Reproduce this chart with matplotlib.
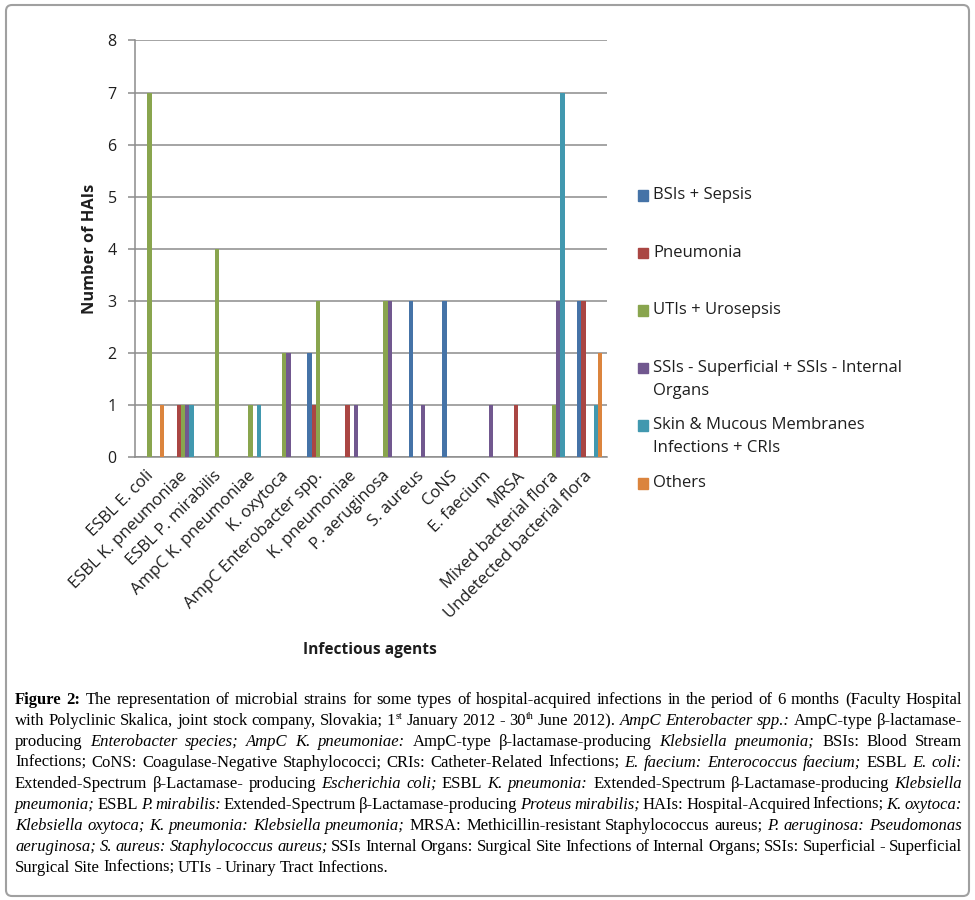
import matplotlib
matplotlib.use("Agg")
import matplotlib.pyplot as plt
import numpy as np
from matplotlib.patches import FancyBboxPatch, Rectangle
from matplotlib.transforms import IdentityTransform

# Data
agents = ["ESBL E. coli", "ESBL K. pneumoniae", "ESBL P. mirabilis",
          "AmpC K. pneumoniae", "K. oxytoca", "AmpC Enterobacter spp.",
          "K. pneumoniae", "P. aeruginosa", "S. aureus", "CoNS", "E. faecium",
          "MRSA", "Mixed bacterial flora", "Undetected bacterial flora"]

series_names = ["BSIs + Sepsis", "Pneumonia", "UTIs + Urosepsis",
                "SSIs - Superficial + SSIs - Internal\nOrgans",
                "Skin & Mucous Membranes\nInfections + CRIs", "Others"]

bsi_sepsis = [0, 0, 0, 0, 0, 2, 0, 0, 3, 3, 0, 0, 0, 3]
pneumonia = [0, 1, 0, 0, 0, 1, 1, 0, 0, 0, 0, 1, 0, 3]
uti_urosepsis = [7, 1, 4, 1, 2, 3, 0, 3, 0, 0, 0, 0, 1, 0]
ssi = [0, 1, 0, 0, 2, 0, 1, 3, 1, 0, 1, 0, 3, 0]
skin_cri = [0, 1, 0, 1, 0, 0, 0, 0, 0, 0, 0, 0, 7, 1]
others = [1, 0, 0, 0, 0, 0, 0, 0, 0, 0, 0, 0, 0, 2]

series_vals = [bsi_sepsis, pneumonia, uti_urosepsis, ssi, skin_cri, others]
colors = ["#4573A7", "#AA4643", "#89A54E", "#71588F", "#4198AF", "#DB843D"]

# Caption: * toggles italic, # toggles bold, ^ toggles superscript
caption_lines = [
    "#Figure 2:# The representation of microbial strains for some types of hospital-acquired infections in the period of 6 months (Faculty Hospital",
    "with Polyclinic Skalica, joint stock company, Slovakia; 1^st^ January 2012 - 30^th^ June 2012). *AmpC Enterobacter spp.:* AmpC-type \u03b2-lactamase-",
    "producing *Enterobacter species; AmpC K. pneumoniae:* AmpC-type \u03b2-lactamase-producing *Klebsiella pneumonia;* BSIs: Blood Stream",
    "Infections; CoNS: Coagulase-Negative Staphylococci; CRIs: Catheter-Related Infections; *E. faecium: Enterococcus faecium;* ESBL *E. coli:*",
    "Extended-Spectrum \u03b2-Lactamase- producing *Escherichia coli;* ESBL *K. pneumonia:* Extended-Spectrum \u03b2-Lactamase-producing *Klebsiella*",
    "*pneumonia;* ESBL *P. mirabilis:* Extended-Spectrum \u03b2-Lactamase-producing *Proteus mirabilis;* HAIs: Hospital-Acquired Infections; *K. oxytoca:*",
    "*Klebsiella oxytoca; K. pneumonia: Klebsiella pneumonia;* MRSA: Methicillin-resistant Staphylococcus aureus; *P. aeruginosa: Pseudomonas*",
    "*aeruginosa; S. aureus: Staphylococcus aureus;* SSIs Internal Organs: Surgical Site Infections of Internal Organs; SSIs: Superficial - Superficial",
    "Surgical Site Infections; UTIs - Urinary Tract Infections.",
]

W, H = 975, 900
fig = plt.figure(figsize=(W / 100, H / 100), dpi=100)
fig.patch.set_facecolor("white")

chart_font = "Open Sans"
grid_col = "#8C8C8C"
txt_col = "#1E1E1E"

# plot area in pixels (top-left origin)
left, right, top, bottom = 134.7, 606.7, 40.5, 457
ax = fig.add_axes([left / W, 1 - bottom / H, (right - left) / W, (bottom - top) / H])

x = np.arange(len(agents))
bw = 0.125
for j, (vals, c) in enumerate(zip(series_vals, colors)):
    ax.bar(x + (j - 2.5) * bw, vals, width=bw, color=c, zorder=3)

ax.set_xlim(-0.5, len(agents) - 0.5)
ax.set_ylim(0, 8)
ax.set_yticks(range(0, 9))
ax.yaxis.grid(True, color=grid_col, lw=1.1)
ax.set_axisbelow(True)
for s in ["top", "right"]:
    ax.spines[s].set_visible(False)
for s in ["left", "bottom"]:
    ax.spines[s].set_color(grid_col)
    ax.spines[s].set_linewidth(1.1)

ax.tick_params(axis="y", length=5, width=1.1, color=grid_col, pad=8,
               labelsize=11.5, labelcolor=txt_col)
for lab in ax.get_yticklabels():
    lab.set_fontfamily(chart_font)

ax.set_xticks(x)
ax.set_xticklabels(agents, rotation=45, ha="right", va="center",
                   rotation_mode="anchor", fontsize=12, family=chart_font,
                   color=txt_col)
ax.tick_params(axis="x", length=0, pad=12)

ax.set_ylabel("Number of HAIs", fontsize=11.8, fontweight="bold",
              family=chart_font, color=txt_col)
ax.yaxis.set_label_coords((98 - left) / (right - left), 0.5)

fig.text(370 / W, 1 - 650 / H, "Infectious agents", ha="center", va="center",
         fontsize=11.2, fontweight="bold", family=chart_font, color=txt_col)

# legend drawn by hand so the squares line up with the first text line
for i, (name, c) in enumerate(zip(series_names, colors)):
    y0 = 195 + 57.6 * i
    fig.add_artist(Rectangle((637.5 / W, 1 - (y0 + 5.5) / H), 10.5 / W, 10.5 / H,
                             transform=fig.transFigure, color=c))
    for k, line in enumerate(name.split("\n")):
        fig.text(653 / W, 1 - (y0 + 23 * k) / H, line, ha="left", va="center",
                 fontsize=12, family=chart_font, color=txt_col)

# caption, justified word by word
renderer = fig.canvas.get_renderer()
cap_fs = 12
cap_x0, cap_x1 = 15, 962
min_gap = 3.0


def parse_words(line):
    words = []
    ital = bold = sup = False
    for word in line.split(" "):
        pieces = []
        cur = ""
        for ch in word:
            if ch in "*#^":
                if cur:
                    pieces.append((cur, ital, bold, sup))
                cur = ""
                if ch == "*":
                    ital = not ital
                elif ch == "#":
                    bold = not bold
                else:
                    sup = not sup
            else:
                cur += ch
        if cur:
            pieces.append((cur, ital, bold, sup))
        words.append(pieces)
    return words


def put_piece(yp, piece, fs):
    s, ital, bold, sup = piece
    size = fs * 0.6 if sup else fs
    yy = yp - 6 if sup else yp
    t = fig.text(0, 1 - yy / H, s, ha="left", va="baseline",
                 family="Liberation Serif", fontsize=size,
                 style="italic" if ital else "normal",
                 weight="bold" if bold else "normal", color="black")
    return t, t.get_window_extent(renderer).width


def layout_line(words, yb, fs):
    placed = []
    widths = []
    for pieces in words:
        arts = []
        w = 0
        for p in pieces:
            t, pw = put_piece(yb, p, fs)
            arts.append((t, w))
            w += pw
        placed.append(arts)
        widths.append(w)
    return placed, widths


for li, line in enumerate(caption_lines):
    yb = 704 + 21 * li
    words = parse_words(line)
    fs = cap_fs
    placed, widths = layout_line(words, yb, fs)
    last = li == len(caption_lines) - 1
    if not last:
        need = sum(widths) + min_gap * (len(words) - 1)
        if need > cap_x1 - cap_x0:
            # too long at this size: shrink this line a little
            for arts in placed:
                for t, off in arts:
                    t.remove()
            fs = fs * (cap_x1 - cap_x0 - min_gap * (len(words) - 1)) / sum(widths)
            placed, widths = layout_line(words, yb, fs)
        gap = (cap_x1 - cap_x0 - sum(widths)) / (len(words) - 1)
    else:
        gap = 3.5
    xc = cap_x0
    for arts, w in zip(placed, widths):
        for t, off in arts:
            t.set_x((xc + off) / W)
        xc += w + gap

# outer rounded frame around chart and caption
fig.add_artist(FancyBboxPatch((6, H - 896), 963, 891,
                              boxstyle="round,pad=0,rounding_size=6",
                              transform=IdentityTransform(), fill=False,
                              edgecolor="#A0A0A0", lw=1.5))

fig.savefig("out.png", dpi=100)
